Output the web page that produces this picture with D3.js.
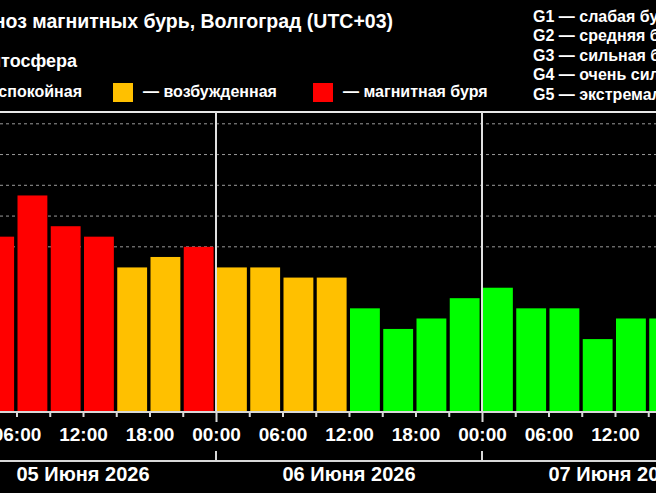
<!DOCTYPE html>
<html>
<head>
<meta charset="utf-8">
<script src="https://cdn.jsdelivr.net/npm/d3@7"></script>
<style>
  html, body { margin: 0; padding: 0; background: #000; }
  svg { display: block; font-family: "Liberation Sans", Arial, sans-serif; font-weight: bold; }
</style>
</head>
<body>
<svg id="chart" width="656" height="493"></svg>
<script>
"use strict"

// 3-hour intervals (local time UTC+03) and Kp forecast for each
const slotTimes = [
    "2026-06-05T03:00", "2026-06-05T06:00", "2026-06-05T09:00", "2026-06-05T12:00",
    "2026-06-05T15:00", "2026-06-05T18:00", "2026-06-05T21:00",
    "2026-06-06T00:00", "2026-06-06T03:00", "2026-06-06T06:00", "2026-06-06T09:00",
    "2026-06-06T12:00", "2026-06-06T15:00", "2026-06-06T18:00", "2026-06-06T21:00",
    "2026-06-07T00:00", "2026-06-07T03:00", "2026-06-07T06:00", "2026-06-07T09:00",
    "2026-06-07T12:00", "2026-06-07T15:00"
];
const kpValues = [5.33, 6.67, 5.67, 5.33, 4.33, 4.67, 5,
                  4.33, 4.33, 4, 4, 3, 2.33, 2.67, 3.33,
                  3.67, 3, 3, 2, 2.67, 2.67];

const dayStarts = ["2026-06-05T00:00", "2026-06-06T00:00", "2026-06-07T00:00", "2026-06-08T00:00"];
const dayLabels = ["05 Июня 2026", "06 Июня 2026", "07 Июня 2026"];

const gridLevels = [5, 6, 7, 8, 9];          // G1..G5
const levelNames = ["G1 — слабая буря", "G2 — средняя буря", "G3 — сильная буря",
                    "G4 — очень сильная буря", "G5 — экстремальная буря"];

const stateLabels = ["— спокойная", "— возбужденная", "— магнитная буря"];
const stateColors = ["#00ff00", "#ffc000", "#ff0000"];
const stateThresholds = [4, 5];

const titleText = "Прогноз магнитных бурь, Волгоград (UTC+03)";
const subTitle = "Магнитосфера";

const parse = d3.utcParse("%Y-%m-%dT%H:%M");
const svg = d3.select("#chart");
const W = 656, H = 493;
const plotTop = 112, plotBottom = 412;

svg.append("rect").attr("width", W).attr("height", H).attr("fill", "#000");

// scales
let x = d3.scaleUtc()
    .domain([parse(dayStarts[0]), parse(dayStarts[1])])
    .range([-50, 216]);
let y = d3.scaleLinear().domain([0, 9]).range([400.6, 123.8]);
let color = d3.scaleThreshold().domain(stateThresholds).range(stateColors);

let slots = slotTimes.map((t, i) => ({ t: parse(t), kp: kpValues[i] }));
let slotW = x(d3.utcHour.offset(slots[0].t, 3)) - x(slots[0].t);

// G-level grid
svg.append("g")
    .selectAll("line")
    .data(gridLevels)
    .join("line")
    .attr("x1", 0).attr("x2", W)
    .attr("y1", d => y(d)).attr("y2", d => y(d))
    .attr("stroke", "#9a9a9a")
    .attr("stroke-width", 1)
    .attr("stroke-dasharray", "3,3");

// bars
svg.append("g")
    .selectAll("rect")
    .data(slots)
    .join("rect")
    .attr("x", d => x(d.t) + 1)
    .attr("width", slotW - 3.4)
    .attr("y", d => y(d.kp))
    .attr("height", d => plotBottom - y(d.kp))
    .attr("fill", d => color(d.kp));

// plot frame: top line and midnight separators
let days = dayStarts.map(parse);
svg.append("line")
    .attr("x1", 0).attr("x2", W).attr("y1", plotTop).attr("y2", plotTop)
    .attr("stroke", "#e8e8e8").attr("stroke-width", 2);
svg.append("g")
    .selectAll("line")
    .data(days)
    .join("line")
    .attr("x1", d => x(d)).attr("x2", d => x(d))
    .attr("y1", plotTop).attr("y2", plotBottom)
    .attr("stroke", "#e0e0e0").attr("stroke-width", 2);

// time axis
let tickTimes = d3.utcHour.every(3).range(days[0], d3.utcHour.offset(days[3], 1));
let fmt = d3.utcFormat("%H:%M");
let xAxis = d3.axisBottom(x)
    .tickValues(tickTimes)
    .tickSize(5)
    .tickPadding(11)
    .tickFormat(d => d.getUTCHours() % 6 == 0 ? fmt(d) : "");
let gx = svg.append("g")
    .attr("transform", "translate(0," + plotBottom + ")")
    .call(xAxis);
gx.select(".domain").remove();
gx.append("line").attr("x1", 0).attr("x2", W)
    .attr("stroke", "#d8d8d8").attr("stroke-width", 2);
gx.selectAll(".tick line")
    .attr("stroke", "#d8d8d8").attr("stroke-width", 2)
    .attr("y2", d => d.getUTCHours() == 0 ? 10 : 5);
gx.selectAll(".tick text")
    .attr("fill", "#fff")
    .attr("font-size", 19)
    .attr("font-family", "'Liberation Sans', Arial, sans-serif")
    .attr("font-weight", "bold");

// date axis
let gd = svg.append("g").attr("transform", "translate(0,461)");
gd.append("line").attr("x1", 0).attr("x2", W)
    .attr("stroke", "#d8d8d8").attr("stroke-width", 2);
gd.selectAll(".dtick")
    .data(days)
    .join("line")
    .attr("class", "dtick")
    .attr("x1", d => x(d)).attr("x2", d => x(d))
    .attr("y1", -10).attr("y2", 0)
    .attr("stroke", "#d8d8d8").attr("stroke-width", 2);
gd.selectAll("text")
    .data(dayLabels)
    .join("text")
    .attr("x", (d, i) => (x(days[i]) + x(days[i + 1])) / 2)
    .attr("y", 20)
    .attr("text-anchor", "middle")
    .attr("fill", "#fff")
    .attr("font-size", 20)
    .text(d => d);

// titles
svg.append("text")
    .attr("x", 393).attr("y", 28)
    .attr("text-anchor", "end")
    .attr("fill", "#fff").attr("font-size", 19.5)
    .text(titleText);
svg.append("text")
    .attr("x", 77).attr("y", 67)
    .attr("text-anchor", "end")
    .attr("fill", "#fff").attr("font-size", 18)
    .text(subTitle);

// state legend
let legX = [null, 113, 313];
let leg = svg.append("g");
stateLabels.forEach(function(lbl, i) {
    let t = leg.append("text")
        .attr("y", 97)
        .attr("fill", "#fff").attr("font-size", 16)
        .text(lbl);
    let sx;
    if (i == 0) {
        t.attr("x", 82).attr("text-anchor", "end");
        sx = 82 - t.node().getComputedTextLength() - 30;
    } else {
        sx = legX[i];
        t.attr("x", sx + 30);
    }
    leg.append("rect")
        .attr("x", sx).attr("y", 83)
        .attr("width", 20).attr("height", 19)
        .attr("fill", stateColors[i]);
});

// G levels legend
svg.append("g")
    .selectAll("text")
    .data(levelNames)
    .join("text")
    .attr("x", 533)
    .attr("y", (d, i) => 21.5 + i * 19.5)
    .attr("fill", "#fff").attr("font-size", 16)
    .text(d => d);
</script>
</body>
</html>
